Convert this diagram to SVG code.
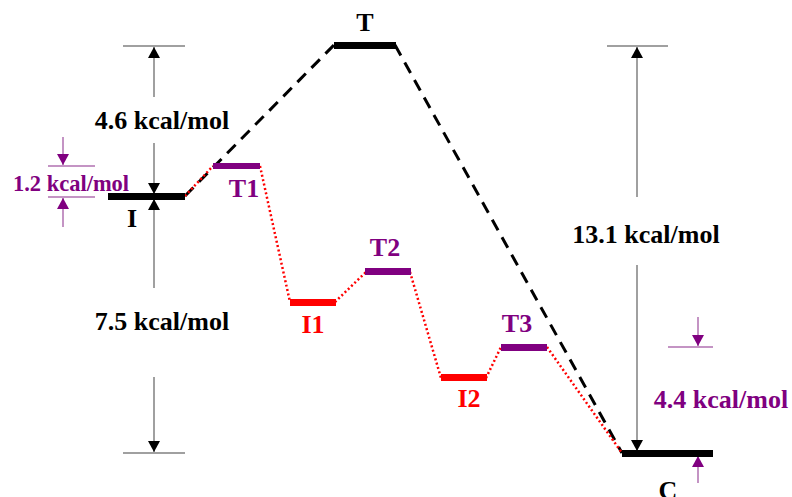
<svg xmlns="http://www.w3.org/2000/svg" width="792" height="497" viewBox="0 0 792 497">
<style>
text{font-family:"Liberation Serif","Times New Roman",serif;font-weight:bold;font-size:26px;text-anchor:middle}
.blk{fill:#000}
.pur{fill:#800080}
.red{fill:#ff0000}
.dim{stroke:#808080;stroke-width:1.5;fill:none}
.dimp{stroke:#b070b0;stroke-width:1.5;fill:none}
.dash{stroke:#000;stroke-width:3;stroke-dasharray:12 8;fill:none}
.dot{stroke:#ff0000;stroke-width:2.5;stroke-dasharray:2 2.5;fill:none}
</style>
<defs>
<marker id="ab" markerWidth="12" markerHeight="12" refX="11" refY="6" orient="auto" markerUnits="userSpaceOnUse"><path d="M0,0 L11,6 L0,12 Z" fill="#000"/></marker>
<marker id="ap" markerWidth="12" markerHeight="12" refX="11" refY="6" orient="auto" markerUnits="userSpaceOnUse"><path d="M0,0 L11,6 L0,12 Z" fill="#800080"/></marker>
</defs>
<g id="connectors">
<path class="dash" d="M185,196 L334,45"/>
<path class="dash" d="M395,45 L622,453"/>
<path class="dot" d="M185,196 L213,166"/>
<path class="dot" d="M260,166 L290,302"/>
<path class="dot" d="M335,302 L366,272"/>
<path class="dot" d="M410,272 L441,378"/>
<path class="dot" d="M486,378 L501,347"/>
<path class="dot" d="M547,347 L622,453"/>
</g>
<g id="dimensions">
<line class="dim" x1="123" y1="46" x2="185" y2="46"/>
<line class="dim" x1="154" y1="97" x2="154" y2="47" marker-end="url(#ab)"/>
<line class="dim" x1="154" y1="143" x2="154" y2="194" marker-end="url(#ab)"/>
<line class="dim" x1="154" y1="288" x2="154" y2="199" marker-end="url(#ab)"/>
<line class="dim" x1="154" y1="377" x2="154" y2="452" marker-end="url(#ab)"/>
<line class="dim" x1="123" y1="453" x2="185" y2="453"/>
<line class="dim" x1="607" y1="46" x2="668" y2="46"/>
<line class="dim" x1="637" y1="197" x2="637" y2="47" marker-end="url(#ab)"/>
<line class="dim" x1="637" y1="265" x2="637" y2="451" marker-end="url(#ab)"/>
<line class="dimp" x1="48" y1="166" x2="95" y2="166"/>
<line class="dimp" x1="63" y1="137" x2="63" y2="165" marker-end="url(#ap)"/>
<line class="dimp" x1="48" y1="197" x2="95" y2="197"/>
<line class="dimp" x1="63" y1="227" x2="63" y2="198" marker-end="url(#ap)"/>
<line class="dimp" x1="668" y1="347" x2="713" y2="347"/>
<line class="dimp" x1="698" y1="317" x2="698" y2="346" marker-end="url(#ap)"/>
<line class="dimp" x1="698" y1="483" x2="698" y2="456" marker-end="url(#ap)"/>
<text class="blk" x="162" y="129">4.6 kcal/mol</text>
<text class="blk" x="162" y="330">7.5 kcal/mol</text>
<text class="blk" x="646" y="243">13.1 kcal/mol</text>
<text class="pur" x="721" y="408">4.4 kcal/mol</text>
<text class="pur" x="71" y="191" style="font-size:22.5px">1.2 kcal/mol</text>
</g>
<g id="I"><rect x="108" y="193" width="77" height="7" class="blk"/><text class="blk" x="132" y="227">I</text></g>
<g id="T"><rect x="334" y="42" width="62" height="7" class="blk"/><text class="blk" x="365" y="31">T</text></g>
<g id="T1"><rect x="213" y="163" width="47" height="6" class="pur"/><text class="pur" x="244" y="197">T1</text></g>
<g id="I1"><rect x="290" y="299" width="46" height="7" class="red"/><text class="red" x="313" y="333">I1</text></g>
<g id="T2"><rect x="365" y="268" width="46" height="7" class="pur"/><text class="pur" x="385" y="256">T2</text></g>
<g id="I2"><rect x="441" y="374" width="46" height="7" class="red"/><text class="red" x="469" y="407">I2</text></g>
<g id="T3"><rect x="501" y="344" width="46" height="7" class="pur"/><text class="pur" x="517" y="332">T3</text></g>
<g id="C"><rect x="622" y="450" width="91" height="7" class="blk"/><text class="blk" x="668" y="499">C</text></g>
</svg>
